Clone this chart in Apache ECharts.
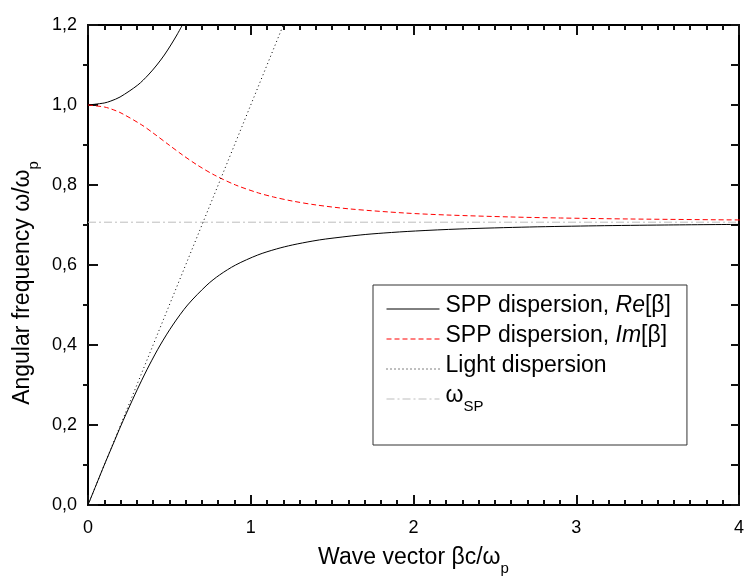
<!DOCTYPE html>
<html><head><meta charset="utf-8">
<script src="https://cdn.jsdelivr.net/npm/echarts@6/dist/echarts.min.js"></script>
<style>html,body{margin:0;padding:0;background:#fff}#c{width:745px;height:580px}</style>
</head><body><div id="c"></div>
<script>
// ---- data ----
const xTickLabels = ['0', '1', '2', '3', '4'];
const yTickLabels = ['0,0', '0,2', '0,4', '0,6', '0,8', '1,0', '1,2'];

// SPP dispersion, Re[beta] – lower branch (beta, omega)
const reLowK = [0, 0.05, 0.1, 0.152, 0.204, 0.259, 0.316, 0.377, 0.444, 0.521, 0.612, 0.731, 0.808, 0.907, 1.043, 1.157, 1.255, 1.382, 1.461, 1.672, 1.818, 2.012, 2.28, 2.712, 3.125, 3.54, 4.0];
const reLowW = [0, 0.05, 0.1, 0.15, 0.2, 0.25, 0.3, 0.35, 0.4, 0.45, 0.5, 0.55, 0.575, 0.6, 0.625, 0.64, 0.65, 0.66, 0.665, 0.675, 0.68, 0.685, 0.69, 0.695, 0.698, 0.700, 0.7015];
// SPP dispersion, Re[beta] – upper branch
const reUpK = [0, 0.0996, 0.1404, 0.197, 0.306, 0.370, 0.423, 0.469, 0.509, 0.546, 0.58];
const reUpW = [1.0, 1.005, 1.01, 1.02, 1.05, 1.075, 1.1, 1.125, 1.15, 1.175, 1.2];
// SPP dispersion, Im[beta]
const imK = [0, 0.1004, 0.1425, 0.203, 0.331, 0.400, 0.498, 0.581, 0.671, 0.776, 0.907, 1.048, 1.140, 1.254, 1.403, 1.613, 1.945, 2.206, 2.605, 2.904, 3.336, 4.04];
const imW = [1.0, 0.995, 0.99, 0.98, 0.95, 0.93, 0.9, 0.875, 0.85, 0.825, 0.8, 0.78, 0.77, 0.76, 0.75, 0.74, 0.73, 0.725, 0.72, 0.7175, 0.715, 0.7125];
// Light dispersion
const lightK = [0, 1.2];
const lightW = [0, 1.2];
// omega_SP
const spK = [0, 4];
const spW = [0.707, 0.707];

const names = ['SPP dispersion, Re[β]', 'SPP dispersion, Im[β]', 'Light dispersion', 'ωSP'];

const pairs = (xs, ys) => xs.map((x, i) => [x, ys[i]]);

const FONT = 'Liberation Sans, Arial, sans-serif';
const chart = echarts.init(document.getElementById('c'));

const legendRich = {
  n0: {fontSize: 23, fontFamily: FONT, color: '#000', lineHeight: 30, verticalAlign: 'top', padding: [0, 0, 0, 1]},
  n: {fontSize: 23, fontFamily: FONT, color: '#000', lineHeight: 30, verticalAlign: 'top'},
  i: {fontSize: 23, fontFamily: FONT, color: '#000', lineHeight: 30, verticalAlign: 'top', fontStyle: 'italic'},
  s: {fontSize: 15, fontFamily: FONT, color: '#000', lineHeight: 6, verticalAlign: 'bottom'}
};
const legendFmt = {
  [names[0]]: '{n0|SPP dispersion, }{i|Re}{n|[β]}',
  [names[1]]: '{n0|SPP dispersion, }{i|Im}{n|[β]}',
  [names[2]]: '{n0|Light dispersion}',
  [names[3]]: '{n0|ω}{s|SP}'
};

const option = {
  animation: false,
  grid: {left: 88, top: 25, width: 651, height: 480, outerBoundsMode: 'none'},
  legend: {
    orient: 'vertical', left: 373, top: 285,
    padding: [9, 16, 31, 13],
    itemGap: 7, itemWidth: 53, itemHeight: 14,
    borderColor: '#333', borderWidth: 1,
    selectedMode: false,
    data: names,
    formatter: (n) => legendFmt[n],
    itemStyle: {color: 'rgba(0,0,0,0)', borderColor: 'rgba(0,0,0,0)', borderWidth: 0},
    lineStyle: {width: 1},
    textStyle: {rich: legendRich}
  },
  xAxis: [
    {type: 'value', min: 0, max: 4, interval: 1, position: 'bottom',
      axisLine: {show: true, onZero: false, lineStyle: {color: '#000', width: 2}},
      axisTick: {show: true, inside: true, length: 10, lineStyle: {color: '#111', width: 2}},
      minorTick: {show: true, splitNumber: 10, length: 5, lineStyle: {color: '#111', width: 2}},
      splitLine: {show: false},
      axisLabel: {margin: 14, fontSize: 18, fontFamily: FONT, color: '#000',
        formatter: (v) => xTickLabels[Math.round(v)]},
      name: '{m|Wave vector βc/ω}{s|p}', nameLocation: 'middle', nameGap: 41,
      nameTextStyle: {rich: {
        m: {fontSize: 23, fontFamily: FONT, color: '#000', lineHeight: 30, verticalAlign: 'top'},
        s: {fontSize: 15, fontFamily: FONT, color: '#000', lineHeight: 6, verticalAlign: 'bottom'}
      }}},
    {type: 'value', min: 0, max: 4, interval: 1, position: 'top',
      axisLine: {show: true, onZero: false, lineStyle: {color: '#000', width: 2}},
      axisTick: {show: true, inside: true, length: 10, lineStyle: {color: '#111', width: 2}},
      minorTick: {show: true, splitNumber: 10, length: 5, lineStyle: {color: '#111', width: 2}},
      splitLine: {show: false}, axisLabel: {show: false}}
  ],
  yAxis: [
    {type: 'value', min: 0, max: 1.2, interval: 0.2, position: 'left',
      axisLine: {show: true, onZero: false, lineStyle: {color: '#000', width: 2}},
      axisTick: {show: true, inside: true, length: 10, lineStyle: {color: '#111', width: 2}},
      splitLine: {show: false},
      axisLabel: {margin: 11, fontSize: 18, fontFamily: FONT, color: '#000',
        formatter: (v) => yTickLabels[Math.round(v / 0.2)]},
      name: '{m|Angular frequency ω/ω}{s|p}', nameLocation: 'middle', nameGap: 47, nameRotate: 90,
      nameTextStyle: {padding: [0, 36, 0, 0], rich: {
        m: {fontSize: 23, fontFamily: FONT, color: '#000', lineHeight: 30, verticalAlign: 'top'},
        s: {fontSize: 15, fontFamily: FONT, color: '#000', lineHeight: 6, verticalAlign: 'bottom'}
      }}},
    {type: 'value', min: 0, max: 1.2, interval: 0.1, position: 'right',
      axisLine: {show: true, onZero: false, lineStyle: {color: '#000', width: 2}},
      axisTick: {show: true, inside: true, length: 8, lineStyle: {color: '#111', width: 2}},
      splitLine: {show: false}, axisLabel: {show: false}},
    {type: 'value', min: 0, max: 1.2, interval: 0.2, position: 'left',
      axisLine: {show: false, onZero: false},
      axisTick: {show: false, inside: false},
      minorTick: {show: true, splitNumber: 2, length: 5, lineStyle: {color: '#111', width: 2}},
      splitLine: {show: false}, axisLabel: {show: false}}
  ],
  series: [
    {name: names[3], type: 'line', symbol: 'none', data: pairs(spK, spW),
      lineStyle: {color: '#bdbdbd', width: 1, type: [8, 3, 2, 3]}, itemStyle: {color: '#bdbdbd'}},
    {name: names[0], type: 'line', symbol: 'none', smooth: 0.3, data: pairs(reLowK, reLowW),
      lineStyle: {color: '#000', width: 1}, itemStyle: {color: '#000'}},
    {name: names[0], type: 'line', symbol: 'none', smooth: 0.3, data: pairs(reUpK, reUpW),
      lineStyle: {color: '#000', width: 1}, itemStyle: {color: '#000'}},
    {name: names[1], type: 'line', symbol: 'none', smooth: 0.3, data: pairs(imK, imW),
      lineStyle: {color: '#ff0000', width: 1, type: [5, 3]}, itemStyle: {color: '#ff0000'}},
    {name: names[2], type: 'line', symbol: 'none', data: pairs(lightK, lightW),
      lineStyle: {color: '#000', width: 1, type: [1, 3]}, itemStyle: {color: '#000'}}
  ]
};
chart.setOption(option);
</script>
</body></html>
